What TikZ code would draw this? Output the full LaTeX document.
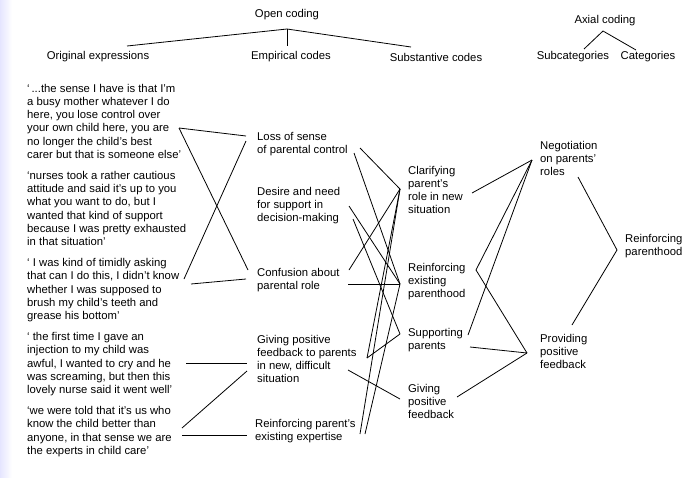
\documentclass[tikz,border=0pt]{standalone}
\usepackage{fontspec}
\setmainfont{Liberation Sans}
\begin{document}
\begin{tikzpicture}[x=1pt,y=-1pt,
  txt/.style={anchor=north west, inner sep=0pt, align=left, font=\fontsize{11.3}{13.2}\selectfont},
  hdr/.style={anchor=center, inner sep=0pt, font=\fontsize{11.3}{13.2}\selectfont},
  link/.style={line width=0.8pt, black}]
\useasboundingbox (0,0) rectangle (691,477);
\shade[left color=blue!10!white, right color=white] (0,0) rectangle (12,477);

% headers
\node[hdr] (open) at (287,15) {Open coding};
\node[hdr] (horig) at (98,57) {Original expressions};
\node[hdr] (hemp) at (291,57) {Empirical codes};
\node[hdr] (hsub) at (436,57) {Substantive codes};
\node[hdr] (axial) at (605,21) {Axial coding};
\node[hdr] (hsubcat) at (573,57) {Subcategories};
\node[hdr] (hcat) at (648,57) {Categories};
\coordinate (openA) at (287,29);
\coordinate (origT) at (127,46);
\coordinate (empT) at (287,46);
\coordinate (subT) at (411,47);
\coordinate (axA) at (603,31);
\coordinate (subcatT) at (584,49);
\coordinate (catT) at (636,50);
\draw[link] (origT) -- (openA) -- (subT);
\draw[link] (openA) -- (empT);
\draw[link] (subcatT) -- (axA) -- (catT);

% original expressions
\node[txt] (q1) at (27,84) {`\,...the sense I have is that I'm\\a busy mother whatever I do\\here, you lose control over\\your own child here, you are\\no longer the child's best\\carer but that is someone else'};
\node[txt] (q2) at (27,171.2) {`nurses took a rather cautious\\attitude and said it's up to you\\what you want to do, but I\\wanted that kind of support\\because I was pretty exhausted\\in that situation'};
\node[txt] (q3) at (27,258.4) {` I was kind of timidly asking\\that can I do this, I didn't know\\whether I was supposed to\\brush my child's teeth and\\grease his bottom'};
\node[txt] (q4) at (27,332.4) {` the first time I gave an\\injection to my child was\\awful, I wanted to cry and he\\was screaming, but then this\\lovely nurse said it went well'};
\node[txt] (q5) at (27,406.4) {`we were told that it's us who\\know the child better than\\anyone, in that sense we are\\the experts in child care'};

% empirical codes
\node[txt] (loss) at (257,132) {Loss of sense\\of parental control};
\node[txt] (desire) at (257,187) {Desire and need\\for support in\\decision-making};
\node[txt] (conf) at (257,268) {Confusion about\\parental role};
\node[txt] (gpf) at (257,335) {Giving positive\\feedback to parents\\in new, difficult\\situation};
\node[txt] (rpe) at (255,419) {Reinforcing parent's\\existing expertise};

% substantive codes
\node[txt] (clar) at (408,166) {Clarifying\\parent's\\role in new\\situation};
\node[txt] (reinf) at (408,263) {Reinforcing\\existing\\parenthood};
\node[txt] (supp) at (408,328) {Supporting\\parents};
\node[txt] (give) at (408,384) {Giving\\positive\\feedback};

% subcategories and category
\node[txt] (nego) at (540,141) {Negotiation\\on parents'\\roles};
\node[txt] (prov) at (540,334) {Providing\\positive\\feedback};
\node[txt] (cat) at (625,234) {Reinforcing\\parenthood};

% ports: quotes -> empirical
\coordinate (q1p) at (179,128);
\coordinate (lossL1) at (246,136);
\coordinate (lossL2) at (246,141);
\coordinate (confL1) at (248,270);
\coordinate (confL2) at (246,279);
\coordinate (q3a) at (184,279);
\coordinate (q3b) at (191,284);
\coordinate (q4p) at (186,363);
\coordinate (gpfL1) at (247,363);
\coordinate (gpfL2) at (247,371);
\coordinate (q5a) at (182,428);
\coordinate (q5b) at (182,435);
\coordinate (rpeL) at (247,435);
\draw[link] (q1p) -- (lossL1);
\draw[link] (q1p) -- (confL1);
\draw[link] (lossL2) -- (q3a);
\draw[link] (q3b) -- (confL2);
\draw[link] (q4p) -- (gpfL1);
\draw[link] (q5a) -- (gpfL2);
\draw[link] (q5b) -- (rpeL);

% ports: empirical -> substantive
\coordinate (lossR1) at (360,148);
\coordinate (lossR2) at (354,153);
\coordinate (desR1) at (349,206);
\coordinate (desR2) at (353,219);
\coordinate (confR1) at (349,270);
\coordinate (confR2) at (348,284);
\coordinate (gpfR1) at (367,358);
\coordinate (gpfR2) at (348,370);
\coordinate (rpeR1) at (360,434);
\coordinate (rpeR2) at (365,434);
\coordinate (claL) at (400,189);
\coordinate (reiL) at (400,284);
\coordinate (supL) at (400,334);
\coordinate (givL) at (400,399);
\draw[link] (lossR1) -- (claL);
\draw[link] (lossR2) -- (reiL);
\draw[link] (desR1) -- (reiL);
\draw[link] (desR2) -- (supL);
\draw[link] (confR1) -- (claL);
\draw[link] (confR2) -- (reiL);
\draw[link] (gpfR1) -- (claL);
\draw[link] (gpfR1) -- (supL);
\draw[link] (gpfR2) -- (givL);
\draw[link] (rpeR1) -- (claL);
\draw[link] (rpeR2) -- (reiL);

% ports: substantive -> subcategories -> category
\coordinate (claR) at (472,193);
\coordinate (reiR) at (476,270);
\coordinate (supR1) at (468,335);
\coordinate (supR2) at (470,347);
\coordinate (givR) at (457,397);
\coordinate (negL) at (532,160);
\coordinate (provL) at (527,353);
\coordinate (negB) at (578,177);
\coordinate (provT) at (572,325);
\coordinate (catL) at (617,250);
\draw[link] (claR) -- (negL);
\draw[link] (reiR) -- (negL);
\draw[link] (reiR) -- (provL);
\draw[link] (supR1) -- (negL);
\draw[link] (supR2) -- (provL);
\draw[link] (givR) -- (provL);
\draw[link] (negB) -- (catL);
\draw[link] (provT) -- (catL);
\end{tikzpicture}
\end{document}
